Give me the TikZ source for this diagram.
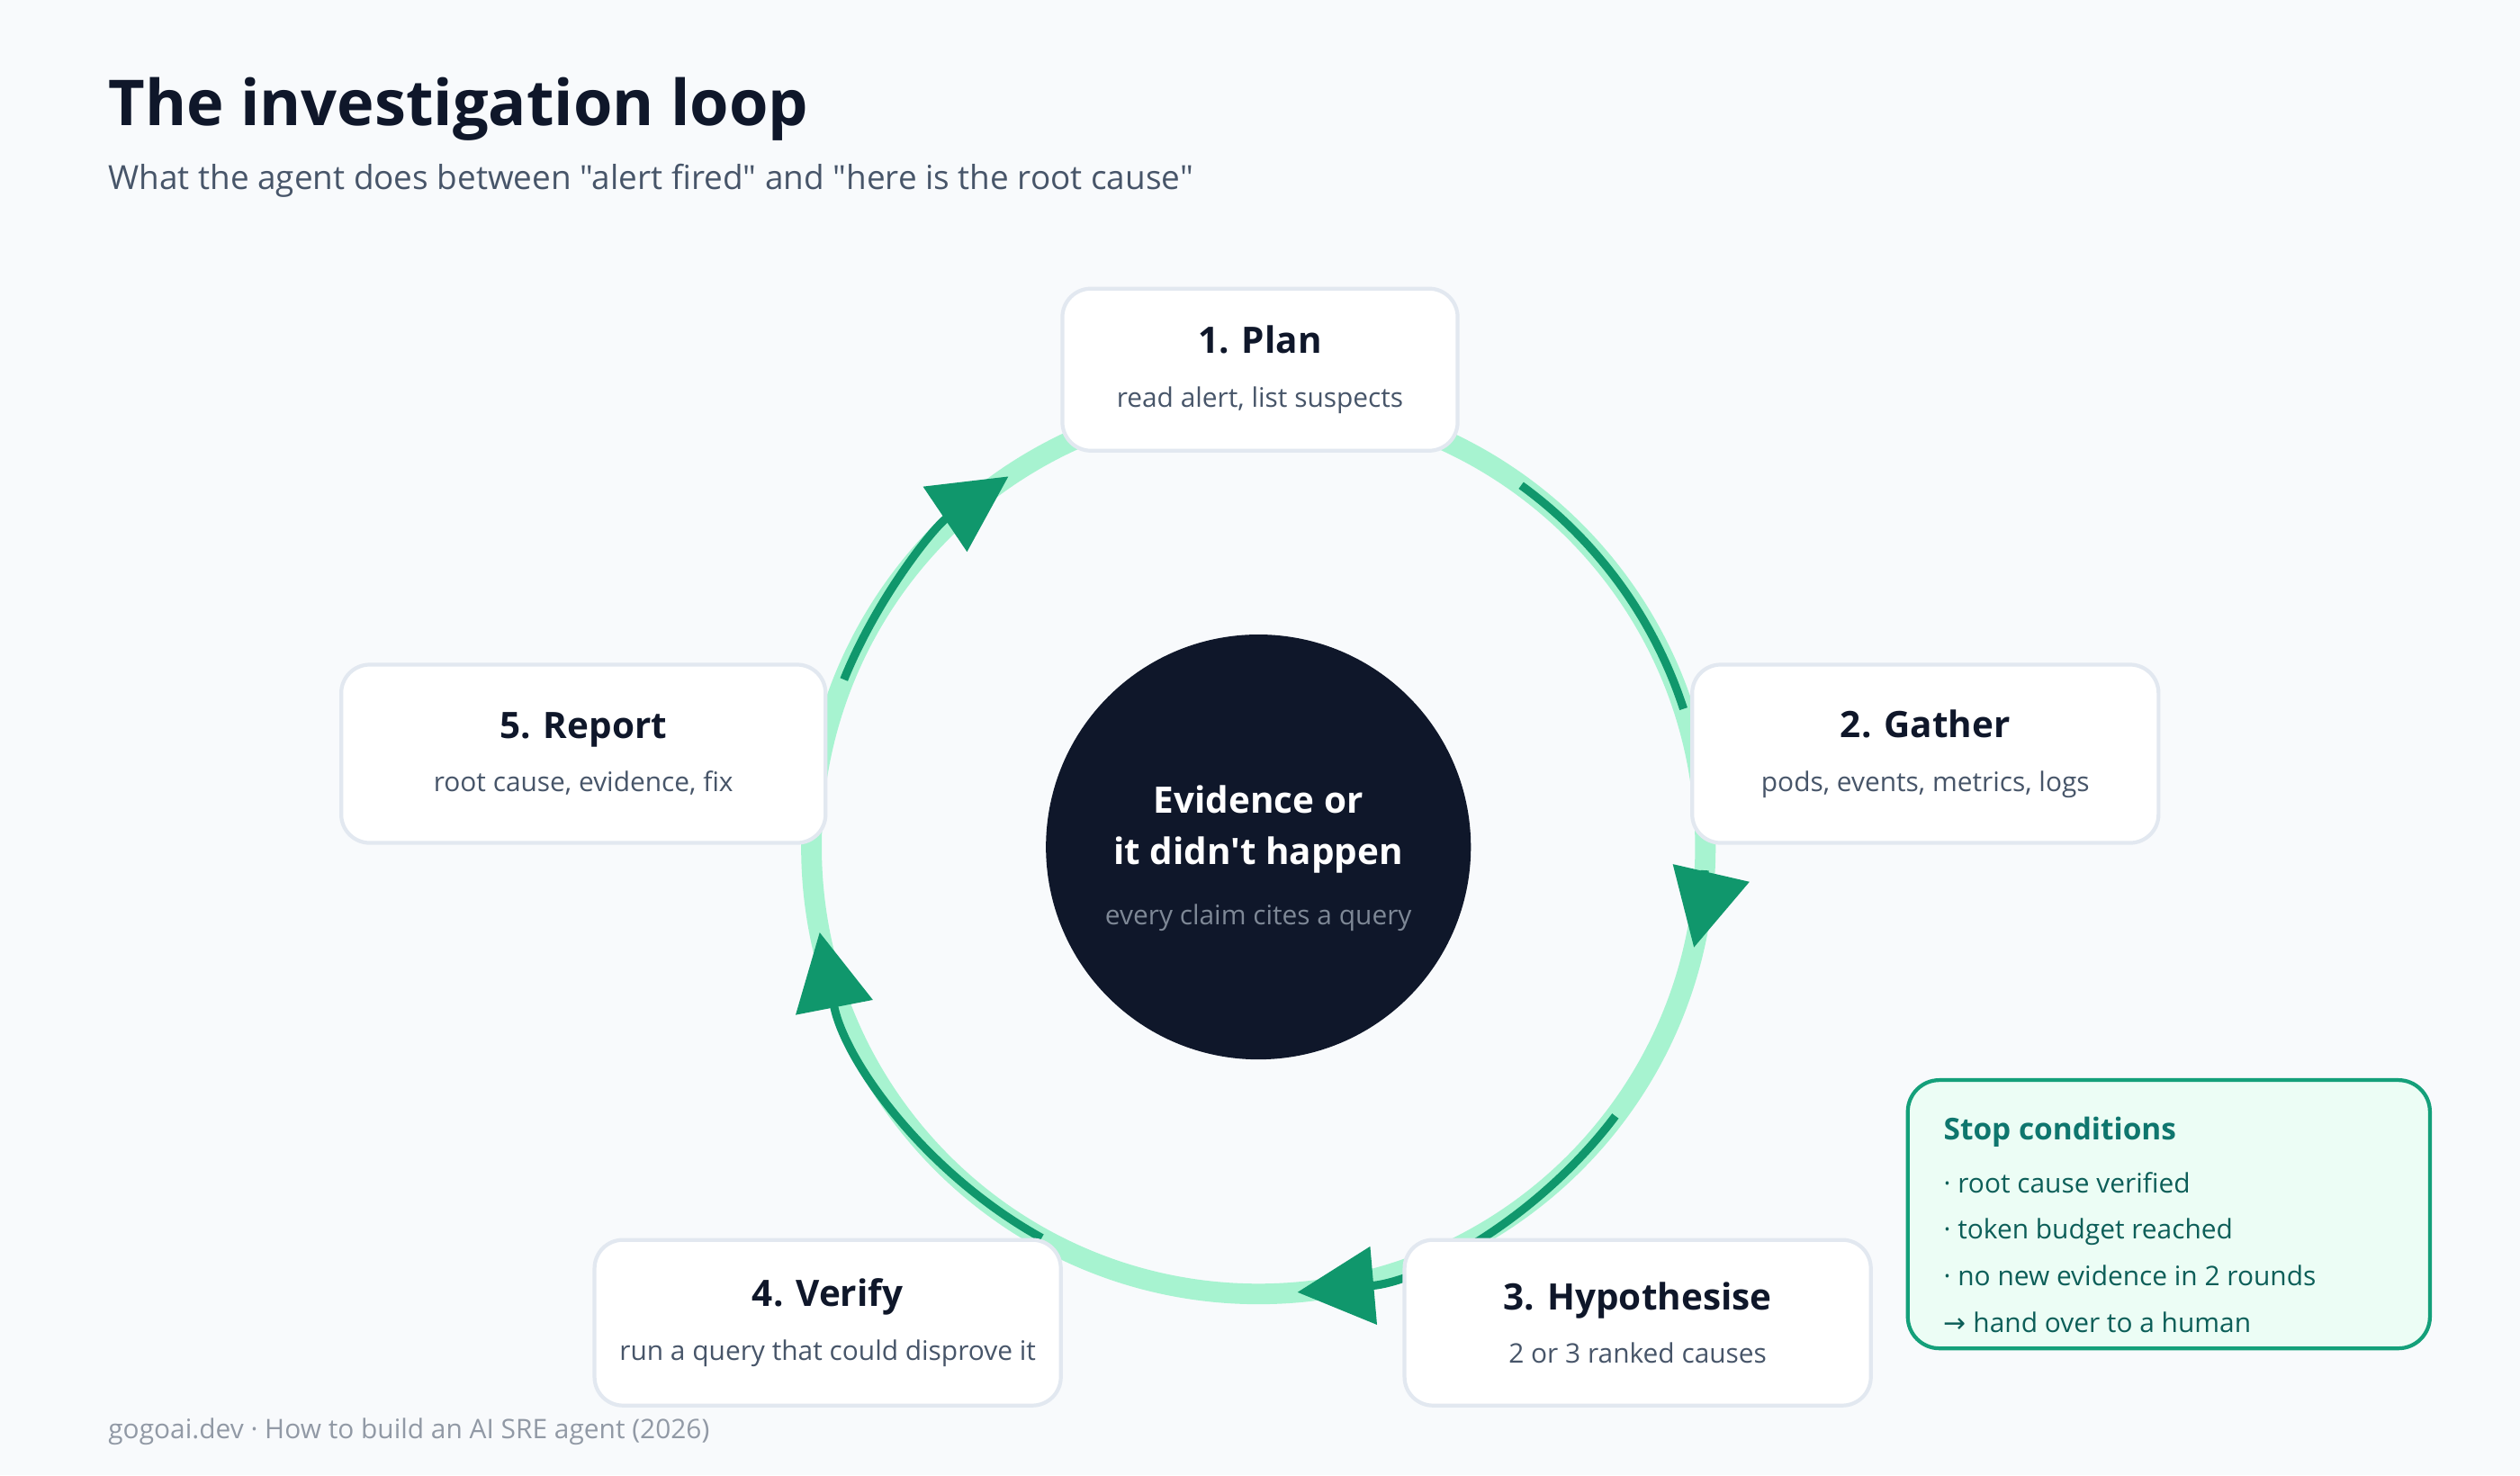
\documentclass[tikz,border=0pt]{standalone}
\usepackage{fontspec}
\setmainfont{Open Sans}[Ligatures=TeXOff]
\newfontfamily\symb{DejaVu Sans}
\usetikzlibrary{arrows.meta}
\usetikzlibrary{calc}
\definecolor{bg}{HTML}{F8FAFC}
\definecolor{ink}{HTML}{0F172A}
\definecolor{subink}{HTML}{475569}
\definecolor{ringlight}{HTML}{A7F3D0}
\definecolor{ringdark}{HTML}{10976C}
\definecolor{stopfill}{HTML}{ECFDF5}
\definecolor{stopline}{HTML}{14A07A}
\definecolor{stopink}{HTML}{0F766E}
\definecolor{boxline}{HTML}{E2E8F0}
\begin{document}
\begin{tikzpicture}
[x=0.01786cm, y=-0.01786cm,
  stepbox/.style={draw=boxline, line width=1.2pt, fill=white, rounded corners=9pt,
    align=center, inner sep=0pt},
  ringarc/.style={ringdark, line width=2.6pt, -{Triangle[length=0.85cm,width=0.85cm]}},
  ringplain/.style={ringdark, line width=2.6pt},
  plaintext/.style={anchor=base west, inner sep=0pt}]
\useasboundingbox[fill=bg] (0,0) rectangle (1568,918);
%% heading
\node[plaintext, text=ink, font=\bfseries\fontsize{20}{24}\selectfont] (title) at (67,78) {The investigation loop};
\node[plaintext, text=subink, font=\fontsize{10.5}{13}\selectfont] (subtitle) at (67,118) {What the agent does between "alert fired" and "here is the root cause"};
%% ring
\coordinate (centre) at (783,527);
\draw[ringlight, line width=6.5pt] (centre) circle (4.965cm);
\draw[ringplain] ($(centre)+(54:4.965cm)$) arc[start angle=54, end angle=18, radius=4.965cm];
\draw[ringarc] ($(centre)+(-3:4.965cm)$) arc[start angle=-3, end angle=-13, radius=4.965cm];
\draw[ringarc] ($(centre)+(-37:4.965cm)$) arc[start angle=-37, end angle=-85, radius=4.965cm];
\draw[ringarc] ($(centre)+(-119:4.965cm)$) arc[start angle=-119, end angle=-169, radius=4.965cm];
\draw[ringarc] ($(centre)+(158:4.965cm)$) arc[start angle=158, end angle=124, radius=4.965cm];
%% hub
\node[circle, fill=ink, minimum size=4.72cm, inner sep=0pt] (hub) at (centre) {};
\node[text=white, align=center, font=\bfseries\fontsize{11.5}{16}\selectfont] (hubtitle) at (783,516) {Evidence or\\it didn't happen};
\node[text=subink!70, font=\fontsize{8.5}{10}\selectfont] (hubnote) at (783,571) {every claim cites a query};
%% steps
\foreach \name/\x/\y/\w/\h/\head/\note in {
  plan/784/230/4.39/1.80/1. Plan/read alert{,} list suspects,
  gather/1198/469/5.18/1.98/2. Gather/pods{,} events{,} metrics{,} logs,
  hypo/1019/823/5.18/1.84/3. Hypothesise/2 or 3 ranked causes,
  verify/515/823/5.18/1.84/4. Verify/run a query that could disprove it,
  report/363/469/5.38/1.98/5. Report/root cause{,} evidence{,} fix}
{
  \node[stepbox, minimum width=\w cm, minimum height=\h cm] (\name) at (\x,\y)
    {{\bfseries\fontsize{11.5}{14}\selectfont\color{ink}\head}\\[5pt]
     {\fontsize{8.5}{10}\selectfont\color{subink}\note}};
}
%% stop conditions
\node[draw=stopline, line width=1.2pt, fill=stopfill, rounded corners=10pt,
  minimum width=5.8cm, minimum height=2.98cm] (stop) at (1349.5,755.5) {};
\node[plaintext, text=stopink, font=\bfseries\fontsize{9.5}{12}\selectfont] (stophead) at (1209,709) {Stop conditions};
\foreach \row/\y/\txt in {a/742/· root cause verified, b/771/· token budget reached,
  c/800/· no new evidence in 2 rounds, d/829/{{\symb →} hand over to a human}}
{
  \node[plaintext, text=stopink!80!black, font=\fontsize{8.5}{10}\selectfont] (stop\row) at (1209,\y) {\txt};
}
%% footer
\node[plaintext, text=subink!60, font=\fontsize{8.5}{10}\selectfont] (footer) at (67,895) {gogoai.dev · How to build an AI SRE agent (2026)};
\end{tikzpicture}
\end{document}
